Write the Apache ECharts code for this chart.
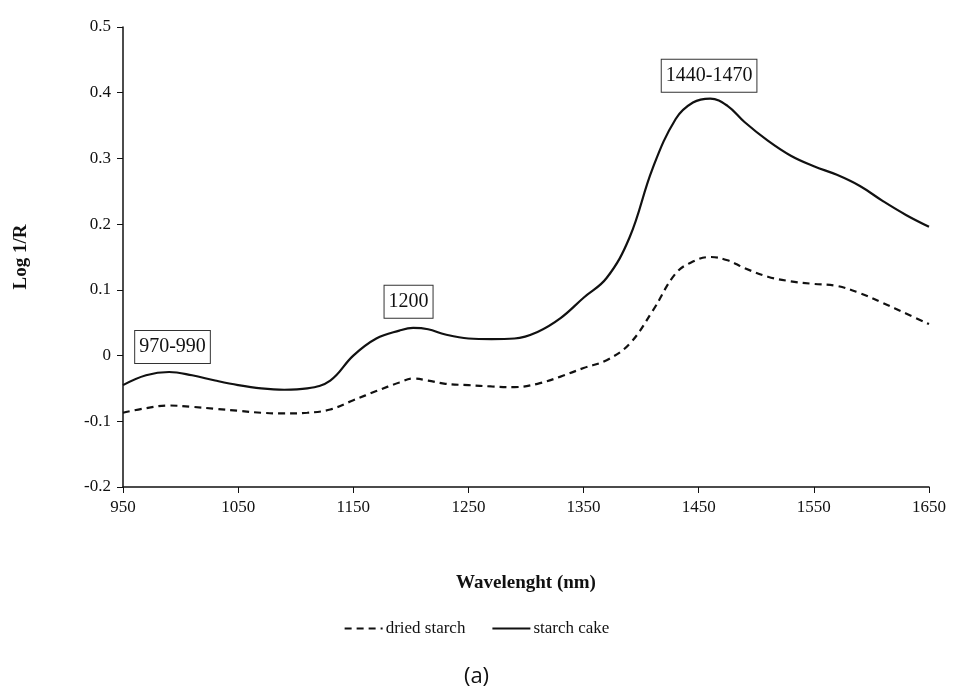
<!DOCTYPE html>
<html>
<head>
<meta charset="utf-8">
<title>Log 1/R spectra</title>
<style>
    html,body{margin:0;padding:0;background:#fff;}
    #chart{width:953px;height:698px;}
</style>
</head>
<body>
<div id="chart"></div>
<script src="https://cdn.jsdelivr.net/npm/echarts@6/dist/echarts.min.js"></script>
<script>
    // wavelength (nm), Log 1/R
    var wavelength = [950,970,990,1010,1030,1050,1070,1090,1110,1130,1150,1170,1190,1202,1215,1230,1250,1270,1290,1310,1330,1350,1370,1390,1410,1430,1445,1460,1475,1490,1510,1530,1550,1570,1590,1610,1630,1650];
    var driedStarch = [-0.087,-0.080,-0.076,-0.078,-0.081,-0.084,-0.087,-0.088,-0.087,-0.082,-0.068,-0.054,-0.041,-0.035,-0.038,-0.043,-0.045,-0.047,-0.048,-0.043,-0.032,-0.019,-0.007,0.018,0.068,0.125,0.143,0.150,0.145,0.133,0.120,0.113,0.109,0.106,0.095,0.080,0.064,0.048];
    var starchCake = [-0.045,-0.030,-0.025,-0.030,-0.038,-0.045,-0.050,-0.052,-0.050,-0.038,0.000,0.026,0.038,0.042,0.040,0.032,0.026,0.025,0.026,0.036,0.057,0.088,0.118,0.180,0.285,0.360,0.385,0.391,0.380,0.355,0.327,0.304,0.288,0.275,0.258,0.235,0.214,0.196];
    var seriesNames = ['dried starch', 'starch cake'];
    // annotation boxes: text, wavelength, value
    var noteText = ['970-990', '1200', '1440-1470'];
    var noteX = [993, 1198, 1459];
    var noteY = [0.013, 0.082, 0.426];

    function pairs(ys) {
        return wavelength.map(function (x, i) { return [x, ys[i]]; });
    }

    var font = 'Liberation Serif';
    var myChart = echarts.init(document.getElementById('chart'));

    var option = {
        backgroundColor: '#fff',
        animation: false,
        grid: {left: 123, right: 24, top: 27, bottom: 211},
        legend: {
            data: seriesNames,
            bottom: 56,
            left: 'center',
            itemWidth: 38,
            itemHeight: 12,
            itemGap: 26,
            itemStyle: {opacity: 0},
            textStyle: {fontFamily: font, fontSize: 17, color: '#111', padding: [0, 0, 0, -2]}
        },
        xAxis: {
            type: 'value',
            min: 950,
            max: 1650,
            interval: 100,
            name: 'Wavelenght (nm)',
            nameLocation: 'middle',
            nameGap: 87,
            nameTextStyle: {fontFamily: font, fontSize: 19, fontWeight: 'bold', color: '#111'},
            axisLine: {onZero: false, lineStyle: {color: '#111', width: 1.5}},
            axisTick: {show: true, length: 6, lineStyle: {color: '#111'}},
            axisLabel: {fontFamily: font, fontSize: 17, color: '#111', margin: 12,
                formatter: function (v) { return String(v); }},
            splitLine: {show: false}
        },
        yAxis: {
            type: 'value',
            min: -0.2,
            max: 0.5,
            interval: 0.1,
            name: 'Log 1/R',
            nameLocation: 'middle',
            nameGap: 92,
            nameTextStyle: {fontFamily: font, fontSize: 19, fontWeight: 'bold', color: '#111'},
            axisLine: {show: true, lineStyle: {color: '#111', width: 1.5}},
            axisTick: {show: true, length: 6, lineStyle: {color: '#111'}},
            axisLabel: {fontFamily: font, fontSize: 17, color: '#111', margin: 12},
            splitLine: {show: false}
        },
        series: [
            {
                name: seriesNames[0],
                type: 'line',
                data: pairs(driedStarch),
                smooth: 0.4,
                symbol: 'none',
                lineStyle: {color: '#111', width: 2.2, type: [7, 5]},
                itemStyle: {color: '#111'}
            },
            {
                name: seriesNames[1],
                type: 'line',
                data: pairs(starchCake),
                smooth: 0.4,
                symbol: 'none',
                lineStyle: {color: '#111', width: 2.2},
                itemStyle: {color: '#111'},
                markPoint: {
                    symbol: 'rect',
                    symbolSize: 0,
                    label: {
                        show: true,
                        position: 'inside',
                        fontFamily: font,
                        fontSize: 20,
                        color: '#111',
                        borderColor: '#333',
                        borderWidth: 1,
                        backgroundColor: '#fff',
                        padding: [7, 4, 5, 4],
                        formatter: function (p) { return p.name; }
                    },
                    data: noteText.map(function (t, i) {
                        return {name: t, coord: [noteX[i], noteY[i]]};
                    })
                }
            }
        ],
        graphic: [{
            type: 'text',
            left: 'center',
            top: 666,
            style: {text: '(a)', font: '22px "Open Sans"', fill: '#111'}
        }]
    };

    myChart.setOption(option);
</script>
</body>
</html>
